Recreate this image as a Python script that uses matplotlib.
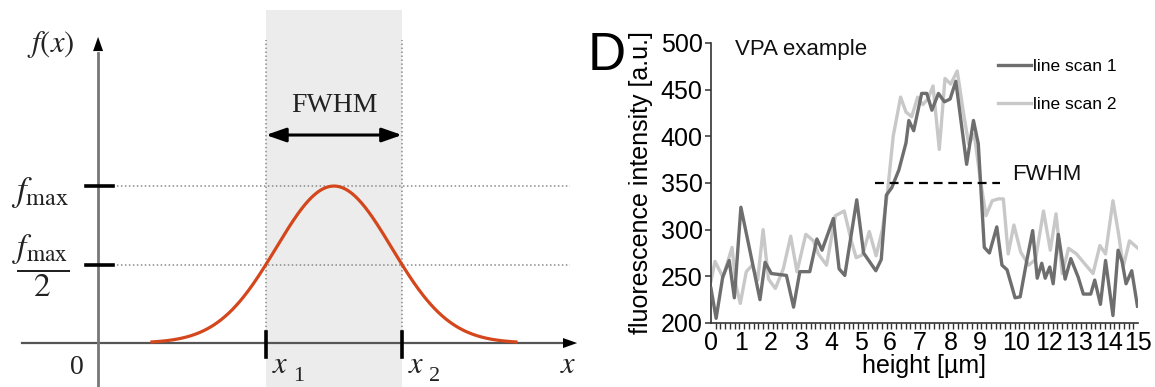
import numpy as np
import matplotlib.pyplot as plt
from matplotlib.ticker import FixedLocator

plt.rcParams['font.family'] = 'Liberation Sans'
plt.rcParams['mathtext.fontset'] = 'stix'

# ---- left panel: schematic peak ----
peak_center = 4.16
peak_fwhm = 2.40
f_max = 1.0

# ---- right panel: line scans ----
scan1_x = [0.00, 0.18, 0.41, 0.64, 0.82, 1.05, 1.35, 1.72, 1.90, 2.12, 2.65, 2.90,
           3.12, 3.47, 3.72, 3.90, 4.30, 4.50, 4.70, 5.12, 5.36, 5.79, 5.98, 6.16,
           6.35, 6.60, 6.85, 6.95, 7.12, 7.40, 7.58, 7.76, 7.99, 8.20, 8.40, 8.60,
           8.98, 9.22, 9.39, 9.60, 9.78, 10.04, 10.22, 10.40, 10.56, 10.68, 10.86,
           11.10, 11.30, 11.46, 11.62, 11.74, 11.90, 12.02, 12.20, 12.44, 12.64,
           12.90, 13.08, 13.34, 13.48, 13.68, 13.86, 14.12, 14.30, 14.44, 14.58,
           14.78, 14.98]
scan1_y = [237, 205, 249, 267, 227, 324, 280, 225, 265, 253, 251, 217,
           255, 255, 290, 278, 312, 258, 251, 332, 275, 256, 268, 337,
           345, 364, 393, 417, 406, 446, 446, 428, 446, 437, 440, 459,
           370, 417, 392, 281, 275, 303, 262, 257, 240, 227, 228,
           268, 299, 248, 264, 248, 260, 242, 295, 247, 269,
           249, 231, 231, 246, 220, 267, 208, 278, 266, 242,
           256, 218]

scan2_x = [0.00, 0.14, 0.42, 0.74, 0.88, 1.03, 1.24, 1.45, 1.64, 1.83, 2.02, 2.26,
           2.54, 2.80, 3.02, 3.33, 3.60, 3.77, 4.06, 4.37, 4.68, 4.93, 5.10, 5.32,
           5.56, 5.80, 6.02, 6.20, 6.40, 6.66, 6.85, 7.05, 7.26, 7.44, 7.62, 7.80,
           8.02, 8.22, 8.42, 8.65, 8.87, 9.05, 9.25, 9.45, 9.66, 9.88, 10.10,
           10.27, 10.44, 10.64, 10.88, 11.16, 11.40, 11.68, 11.92, 12.12, 12.34,
           12.56, 12.84, 13.14, 13.42, 13.66, 13.86, 14.12, 14.32, 14.48, 14.70,
           15.00]
scan2_y = [245, 266, 249, 281, 240, 221, 255, 262, 246, 300, 247, 237,
           258, 293, 255, 295, 288, 274, 262, 315, 320, 288, 270, 273,
           298, 272, 300, 340, 400, 442, 426, 421, 442, 434, 440, 454,
           386, 462, 456, 470, 425, 392, 402, 356, 315, 331, 333,
           333, 274, 305, 276, 262, 268, 320, 278, 317, 253,
           280, 274, 263, 253, 283, 274, 331, 295, 260, 288,
           280]

fwhm_level = 350
fwhm_span = [5.75, 10.15]
# tick labels as printed in the figure (the originals sit slightly off the integer marks)
xtick_text = ['0', '1', '2', '3', '4', '5', '6', '7', '8', '9', '10', '12', '13', '14', '15']
xtick_pos = [0.0, 1.05, 2.11, 3.20, 4.22, 5.27, 6.29, 7.32, 8.41, 9.43, 10.72, 11.87, 12.92, 13.98, 15.0]
ytick_vals = [200, 250, 300, 350, 400, 450, 500]

fig = plt.figure(figsize=(11.55, 3.87), dpi=100)

# ================= left schematic =================
ax = fig.add_axes([0, 0, 580 / 1155, 1])
ax.set_xlim(-1.73, 8.5)
ax.set_ylim(-0.28, 2.185)
ax.axis('off')

x1 = peak_center - peak_fwhm / 2
x2 = peak_center + peak_fwhm / 2
sigma = peak_fwhm / (2 * np.sqrt(2 * np.log(2)))
xs = np.linspace(peak_center - 3.15 * sigma, peak_center + 3.15 * sigma, 300)
ys = f_max * np.exp(-0.5 * ((xs - peak_center) / sigma) ** 2)

# shaded band
ax.axvspan(x1, x2, ymin=0, ymax=(2.12 + 0.28) / (2.185 + 0.28), color='#ececec', lw=0, zorder=0)

# dotted guides
dot = (0, (1, 1.6))
for xv in [x1, x2]:
    ax.plot([xv, xv], [0, 1.93], ls=dot, color='#8a8a8a', lw=1.1, zorder=1)
for yv in [f_max, f_max / 2]:
    ax.plot([0.26, 8.32], [yv, yv], ls=dot, color='#8a8a8a', lw=1.1, zorder=1)

# axes with arrows
ax.plot([-1.34, 8.3], [0, 0], color='#555555', lw=1.6, zorder=2)
ax.plot([0, 0], [-0.28, 1.85], color='#777777', lw=2.0, zorder=2)
ax.annotate('', xy=(8.45, 0), xytext=(8.0, 0),
            arrowprops=dict(arrowstyle='-|>,head_length=0.85,head_width=0.3',
                            color='black', lw=0, shrinkA=0, shrinkB=0, mutation_scale=12))
ax.annotate('', xy=(0, 1.95), xytext=(0, 1.7),
            arrowprops=dict(arrowstyle='-|>,head_length=0.85,head_width=0.3',
                            color='black', lw=0, shrinkA=0, shrinkB=0, mutation_scale=12))

# ticks
for yv in [f_max, f_max / 2]:
    ax.plot([-0.21, 0.26], [yv, yv], color='black', lw=2.6, zorder=3)
for xv in [x1, x2]:
    ax.plot([xv, xv], [-0.089, 0.07], color='black', lw=2.6, zorder=3)

# curve
ax.plot(xs, ys, color='#d4471c', lw=2.3, zorder=4)

# FWHM arrow
ax.annotate('', xy=(x1, 1.325), xytext=(x2, 1.325),
            arrowprops=dict(arrowstyle='<|-|>,head_length=0.8,head_width=0.28',
                            color='black', lw=2.2, shrinkA=0, shrinkB=0, mutation_scale=15))
ax.text(peak_center, 1.51, 'FWHM', ha='center', va='center', family='Liberation Serif',
        fontsize=20, color='#222222')

# labels
tc = '#222222'
ax.text(-0.84, 1.90, r'$f(x)$', ha='center', va='center', fontsize=22, color=tc)
ax.text(-1.02, 0.96, r'$f_{\rm max}$', ha='center', va='center', fontsize=25, color=tc)
ax.text(-1.0, 0.49, r'$\dfrac{f_{\rm max}}{2}$', ha='center', va='center', fontsize=24, color=tc)
ax.text(-0.37, -0.153, '0', ha='center', va='center', family='Liberation Serif', fontsize=20, color=tc)
for xv, sub in [(x1, '1'), (x2, '2')]:
    ax.text(xv + 0.25, -0.14, r'$x$', ha='center', va='center', fontsize=22, color=tc)
    ax.text(xv + 0.58, -0.21, sub, ha='center', va='center', family='Liberation Serif',
            fontsize=16, color=tc)
ax.text(8.29, -0.14, r'$x$', ha='center', va='center', fontsize=22, color=tc)

# ================= right line scans =================
ax2 = fig.add_axes([711 / 1155, (387 - 323) / 387, 427 / 1155, 280 / 387])
ax2.plot(scan1_x, scan1_y, color='#6e6e6e', lw=2.4, label='line scan 1', zorder=3)
ax2.plot(scan2_x, scan2_y, color='#c8c8c8', lw=2.4, label='line scan 2', zorder=2)
ax2.plot(fwhm_span, [fwhm_level, fwhm_level], color='black', lw=1.6, dashes=(4, 2.6), zorder=4)
ax2.text(10.57, 358.6, 'FWHM', ha='left', va='center', fontsize=16, color='#111111')
ax2.text(0.056, 0.975, 'VPA example', transform=ax2.transAxes, ha='left', va='center',
         fontsize=16, color='#111111')

ax2.set_xlim(0, 15)
ax2.set_ylim(200, 500)
ax2.set_xticks(xtick_pos)
ax2.set_xticklabels(xtick_text)
ax2.xaxis.set_minor_locator(FixedLocator(np.arange(0, 15.01, 1 / 6)))
ax2.set_yticks(ytick_vals)
for s in ['top', 'right']:
    ax2.spines[s].set_visible(False)
for s in ['left', 'bottom']:
    ax2.spines[s].set_color('#333333')
    ax2.spines[s].set_linewidth(1.2)
ax2.tick_params(axis='y', which='major', length=4, width=1.1, color='#333333',
                labelsize=18, pad=2)
ax2.tick_params(axis='x', which='major', length=0, labelsize=18, pad=6)
ax2.tick_params(axis='x', which='minor', length=4, width=1.0, color='#333333')
ax2.set_xlabel('height [µm]', fontsize=18)
ax2.set_ylabel('fluorescence intensity [a.u.]', fontsize=18)
ax2.xaxis.set_label_coords(0.5, -0.11)
ax2.yaxis.set_label_coords(-0.135, 0.5)

leg = ax2.legend(loc='upper left', bbox_to_anchor=(998 / 1155, 1 - 59 / 387),
                 bbox_transform=fig.transFigure, frameon=False, fontsize=12.5,
                 handlelength=1.9, handletextpad=0.1, borderpad=0, borderaxespad=0,
                 labelspacing=1.3)

fig.text(588 / 1155, 1 - 70 / 387, 'D', fontsize=38, ha='left', va='baseline')

fig.savefig('out.png', dpi=100)
